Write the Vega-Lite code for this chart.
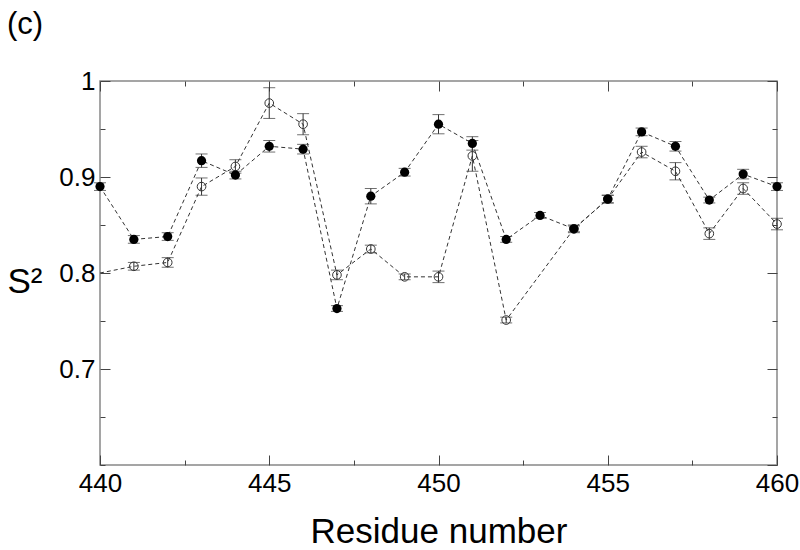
{
  "$schema": "https://vega.github.io/schema/vega-lite/v6.json",
  "width": 677,
  "height": 384,
  "autosize": "none",
  "padding": {"left": 100, "top": 81, "right": 23, "bottom": 85},
  "background": "white",
  "title": {"text": "(c)", "anchor": "start", "frame": "group", "offset": 27, "dx": -93, "fontSize": 31, "font": "Liberation Sans", "fontWeight": "normal", "color": "black"},
  "config": {
    "view": {"stroke": "#888", "strokeWidth": 1.5},
    "axis": {"labelFont": "Liberation Sans", "titleFont": "Liberation Sans", "labelColor": "black", "titleColor": "black", "tickColor": "#444", "tickWidth": 1, "ticks": true, "domain": false, "grid": false, "labelFontSize": 26, "titleFontWeight": "normal"}
  },
  "data": {"values": [
    {"residue": 440, "s2": 0.890, "err": 0.004, "series": "filled"},
    {"residue": 441, "s2": 0.835, "err": 0.004, "series": "filled"},
    {"residue": 442, "s2": 0.838, "err": 0.004, "series": "filled"},
    {"residue": 443, "s2": 0.917, "err": 0.007, "series": "filled"},
    {"residue": 444, "s2": 0.902, "err": 0.004, "series": "filled"},
    {"residue": 445, "s2": 0.932, "err": 0.006, "series": "filled"},
    {"residue": 446, "s2": 0.929, "err": 0.005, "series": "filled"},
    {"residue": 447, "s2": 0.763, "err": 0.003, "series": "filled"},
    {"residue": 448, "s2": 0.880, "err": 0.008, "series": "filled"},
    {"residue": 449, "s2": 0.905, "err": 0.004, "series": "filled"},
    {"residue": 450, "s2": 0.955, "err": 0.010, "series": "filled"},
    {"residue": 451, "s2": 0.935, "err": 0.007, "series": "filled"},
    {"residue": 452, "s2": 0.835, "err": 0.003, "series": "filled"},
    {"residue": 453, "s2": 0.860, "err": 0.003, "series": "filled"},
    {"residue": 454, "s2": 0.846, "err": 0.004, "series": "filled"},
    {"residue": 455, "s2": 0.877, "err": 0.004, "series": "filled"},
    {"residue": 456, "s2": 0.947, "err": 0.004, "series": "filled"},
    {"residue": 457, "s2": 0.932, "err": 0.005, "series": "filled"},
    {"residue": 458, "s2": 0.876, "err": 0.003, "series": "filled"},
    {"residue": 459, "s2": 0.903, "err": 0.005, "series": "filled"},
    {"residue": 460, "s2": 0.890, "err": 0.004, "series": "filled"},
    {"residue": 440, "s2": 0.800, "err": 0.0, "series": "open"},
    {"residue": 441, "s2": 0.807, "err": 0.004, "series": "open"},
    {"residue": 442, "s2": 0.811, "err": 0.005, "series": "open"},
    {"residue": 443, "s2": 0.890, "err": 0.009, "series": "open"},
    {"residue": 444, "s2": 0.911, "err": 0.007, "series": "open"},
    {"residue": 445, "s2": 0.977, "err": 0.016, "series": "open"},
    {"residue": 446, "s2": 0.955, "err": 0.011, "series": "open"},
    {"residue": 447, "s2": 0.798, "err": 0.005, "series": "open"},
    {"residue": 448, "s2": 0.825, "err": 0.004, "series": "open"},
    {"residue": 449, "s2": 0.796, "err": 0.003, "series": "open"},
    {"residue": 450, "s2": 0.796, "err": 0.006, "series": "open"},
    {"residue": 451, "s2": 0.922, "err": 0.016, "series": "open"},
    {"residue": 452, "s2": 0.751, "err": 0.003, "series": "open"},
    {"residue": 454, "s2": 0.846, "err": 0.003, "series": "open"},
    {"residue": 455, "s2": 0.877, "err": 0.004, "series": "open"},
    {"residue": 456, "s2": 0.926, "err": 0.006, "series": "open"},
    {"residue": 457, "s2": 0.906, "err": 0.009, "series": "open"},
    {"residue": 458, "s2": 0.841, "err": 0.006, "series": "open"},
    {"residue": 459, "s2": 0.888, "err": 0.006, "series": "open"},
    {"residue": 460, "s2": 0.851, "err": 0.006, "series": "open"}
  ]},
  "layer": [
    {
      "transform": [{"filter": "datum.series == 'filled'"}],
      "mark": {"type": "line", "color": "#333", "strokeWidth": 1, "strokeDash": [4, 3]},
      "encoding": {
        "x": {"field": "residue", "type": "quantitative", "scale": {"domain": [440, 460], "nice": false, "zero": false},
              "axis": {"orient": "bottom", "values": [440, 445, 450, 455, 460], "format": "d",
                       "tickSize": -10,
                       "labelPadding": 15, "labelFlush": false,
                       "title": "Residue number", "titleFontSize": 35, "titleBaseline": "alphabetic", "titleY": 77}},
        "y": {"field": "s2", "type": "quantitative", "scale": {"domain": [0.6, 1], "nice": false, "zero": false},
              "axis": {"orient": "left", "values": [0.7, 0.8, 0.9, 1],
                       "labelExpr": "datum.value == 1 ? '1' : format(datum.value, '.1f')",
                       "tickSize": -10,
                       "labelPadding": 15, "labelFlush": false,
                       "title": "S²", "titleAngle": 0, "titleFontSize": 35, "titleAlign": "left", "titleX": -93, "titleY": 211, "titleBaseline": "alphabetic"}}
      }
    },
    {
      "transform": [{"filter": "datum.series == 'open'"}],
      "mark": {"type": "line", "color": "#333", "strokeWidth": 1, "strokeDash": [4, 3]},
      "encoding": {
        "x": {"field": "residue", "type": "quantitative",
              "axis": {"orient": "top", "values": [440, 445, 450, 455, 460], "labels": false, "title": null, "tickSize": -10}},
        "y": {"field": "s2", "type": "quantitative",
              "axis": {"orient": "right", "values": [0.6, 0.7, 0.8, 0.9, 1], "labels": false, "title": null, "tickSize": -10}}
      }
    },
    {
      "transform": [{"filter": "datum.err > 0"}],
      "mark": {"type": "errorbar", "ticks": {"size": 12, "color": "#333", "thickness": 1}, "rule": {"color": "#333", "strokeWidth": 1}},
      "encoding": {
        "x": {"field": "residue", "type": "quantitative", "axis": null},
        "y": {"field": "s2", "type": "quantitative", "axis": null},
        "yError": {"field": "err"},
        "detail": {"field": "series"}
      }
    },
    {
      "transform": [{"filter": "datum.series == 'open' && datum.residue != 440"}],
      "mark": {"type": "point", "shape": "circle", "filled": false, "stroke": "#333", "strokeWidth": 1, "size": 75, "opacity": 1},
      "encoding": {
        "x": {"field": "residue", "type": "quantitative",
              "axis": {"orient": "bottom", "values": [442.5, 447.5, 452.5, 457.5], "labels": false, "title": null, "tickSize": -5}},
        "y": {"field": "s2", "type": "quantitative",
              "axis": {"orient": "left", "values": [0.6, 0.65, 0.75, 0.85, 0.95], "labels": false, "title": null, "tickSize": -5}}
      }
    },
    {
      "transform": [{"filter": "datum.series == 'filled'"}],
      "mark": {"type": "point", "shape": "circle", "filled": true, "fill": "black", "size": 85, "opacity": 1},
      "encoding": {
        "x": {"field": "residue", "type": "quantitative",
              "axis": {"orient": "top", "values": [442.5, 447.5, 452.5, 457.5], "labels": false, "title": null, "tickSize": -5}},
        "y": {"field": "s2", "type": "quantitative",
              "axis": {"orient": "right", "values": [0.65, 0.75, 0.85, 0.95], "labels": false, "title": null, "tickSize": -5}}
      }
    }
  ]
}
